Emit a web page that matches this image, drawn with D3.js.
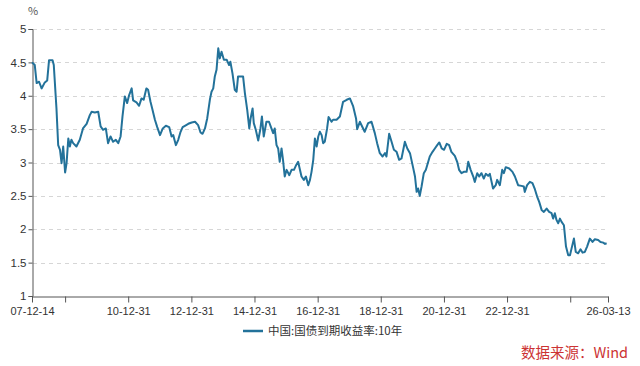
<!DOCTYPE html>
<html>
<head>
<meta charset="utf-8">
<script src="https://cdn.jsdelivr.net/npm/d3@7"></script>
<style>
  html, body { margin: 0; padding: 0; background: #fff; }
  svg { display: block; }
  text { font-family: "Noto Sans CJK SC", "Noto Sans", sans-serif; }
</style>
</head>
<body>
<svg id="chart" width="640" height="366"></svg>
<script>
// ---- data ----
const seriesName = "中国:国债到期收益率:10年";
const sourceText = "数据来源：Wind";
const unitLabel = "%";

const dates = [
"2007-12-14","2008-01-15","2008-02-06","2008-03-05","2008-04-03","2008-05-10","2008-06-07","2008-06-28",
"2008-08-08","2008-08-22","2008-09-22","2008-10-12","2008-11-02","2008-11-20","2008-12-09","2008-12-31",
"2009-01-17","2009-02-06","2009-02-24","2009-03-14","2009-04-03","2009-05-11","2009-06-19","2009-07-26",
"2009-09-06","2009-10-13","2009-11-03","2009-12-10","2010-01-18","2010-02-15","2010-03-15","2010-04-16",
"2010-05-12","2010-06-10","2010-07-09","2010-08-10","2010-09-07","2010-10-04","2010-10-26","2010-11-22",
"2010-12-19","2011-01-11","2011-02-09","2011-02-26","2011-04-06","2011-05-06","2011-06-03","2011-06-28",
"2011-07-29","2011-08-18","2011-09-15","2011-10-08","2011-11-05","2011-12-02","2012-01-03","2012-02-04",
"2012-03-11","2012-04-18","2012-05-16","2012-06-04","2012-07-05","2012-08-01","2012-08-28","2012-09-21",
"2012-10-17","2012-11-25","2013-01-04","2013-02-11","2013-03-19","2013-04-16","2013-05-09","2013-06-06",
"2013-07-02","2013-08-03","2013-08-21","2013-09-10","2013-09-28","2013-10-18","2013-11-07","2013-11-25",
"2013-12-15","2014-01-11","2014-02-12","2014-03-12","2014-03-27","2014-04-20","2014-05-17","2014-06-07",
"2014-06-24","2014-07-14","2014-08-21","2014-09-11","2014-10-08","2014-11-01","2014-11-16","2014-12-09",
"2014-12-23","2015-01-15","2015-02-12","2015-03-10","2015-03-27","2015-04-17","2015-05-18","2015-06-17",
"2015-07-15","2015-08-04","2015-08-22","2015-09-12","2015-10-01","2015-10-19","2015-11-09","2015-11-26",
"2015-12-16","2016-01-07","2016-02-07","2016-03-04","2016-04-01","2016-04-22","2016-05-19","2016-06-09",
"2016-06-27","2016-07-24","2016-08-17","2016-09-13","2016-10-03","2016-10-21","2016-11-10","2016-11-29",
"2016-12-19","2017-01-07","2017-01-25","2017-02-15","2017-03-04","2017-03-23","2017-04-19","2017-05-06",
"2017-06-10","2017-06-27","2017-08-07","2017-09-14","2017-10-21","2017-12-02","2018-01-08","2018-02-15",
"2018-03-20","2018-04-02","2018-05-03","2018-06-28","2018-08-07","2018-09-15","2018-10-23","2018-11-19",
"2018-12-20","2019-01-21","2019-02-18","2019-03-07","2019-04-07","2019-05-05","2019-06-01","2019-07-02",
"2019-08-01","2019-08-28","2019-10-06","2019-11-03","2019-12-04","2020-01-10","2020-01-31","2020-02-19",
"2020-03-07","2020-03-26","2020-04-16","2020-05-12","2020-06-05","2020-07-02","2020-07-20","2020-08-21",
"2020-09-17","2020-10-14","2020-11-07","2020-12-05","2021-01-01","2021-02-01","2021-03-01","2021-03-27",
"2021-05-06","2021-06-02","2021-06-24","2021-07-22","2021-08-18","2021-09-19","2021-10-08","2021-11-05",
"2021-12-05","2021-12-23","2022-01-20","2022-02-12","2022-03-10","2022-04-06","2022-04-29","2022-05-26",
"2022-06-15","2022-07-22","2022-08-22","2022-09-08","2022-10-09","2022-11-05","2022-11-24","2022-12-16",
"2023-01-25","2023-03-04","2023-04-01","2023-05-08","2023-06-16","2023-07-13","2023-07-24","2023-08-20",
"2023-09-21","2023-10-21","2023-11-18","2023-12-14","2024-01-07","2024-02-04","2024-03-01","2024-04-02",
"2024-05-01","2024-05-29","2024-06-16","2024-07-06","2024-07-25","2024-08-14","2024-09-03","2024-09-22",
"2024-10-19","2024-11-12","2024-12-08","2024-12-28","2025-01-15","2025-02-12","2025-03-05","2025-04-02",
"2025-04-29","2025-05-22","2025-06-18","2025-07-14","2025-08-15","2025-09-15","2025-10-12","2025-11-19",
"2025-12-16","2026-01-17","2026-02-07","2026-02-25"
];

const yields = [
4.50,4.46,4.19,4.21,4.11,4.20,4.23,4.53,
4.53,4.46,3.81,3.26,3.19,2.99,3.24,2.85,
2.99,3.36,3.24,3.34,3.29,3.24,3.34,3.51,
3.58,3.71,3.76,3.75,3.76,3.54,3.49,3.51,
3.29,3.39,3.31,3.34,3.29,3.39,3.69,3.99,
3.89,4.01,4.11,3.93,3.90,3.85,3.96,3.94,
4.11,4.09,3.91,3.79,3.64,3.53,3.41,3.51,
3.55,3.53,3.39,3.41,3.26,3.34,3.46,3.53,
3.55,3.58,3.60,3.61,3.56,3.45,3.43,3.51,
3.66,3.95,4.06,4.11,4.29,4.39,4.71,4.56,
4.66,4.54,4.54,4.46,4.51,4.34,4.09,4.06,
4.29,4.29,4.29,4.04,3.79,3.51,3.66,3.81,
3.59,3.49,3.33,3.51,3.69,3.39,3.61,3.61,
3.51,3.44,3.51,3.26,3.21,3.01,3.21,3.04,
2.79,2.89,2.81,2.89,2.89,2.95,3.01,2.89,
2.79,2.74,2.79,2.66,2.74,2.86,3.04,3.36,
3.24,3.39,3.46,3.41,3.29,3.31,3.51,3.68,
3.61,3.64,3.64,3.69,3.91,3.94,3.96,3.84,
3.66,3.50,3.61,3.46,3.59,3.61,3.44,3.29,
3.14,3.09,3.14,3.09,3.43,3.31,3.19,3.16,
3.04,3.06,3.31,3.21,3.14,2.92,2.79,2.56,
2.61,2.50,2.64,2.84,2.89,3.01,3.09,3.16,
3.21,3.26,3.30,3.21,3.19,3.28,3.26,3.16,
3.10,3.01,2.89,2.84,2.86,2.86,3.01,2.89,
2.79,2.71,2.84,2.79,2.84,2.76,2.83,2.80,
2.83,2.61,2.66,2.74,2.66,2.89,2.84,2.93,
2.91,2.86,2.79,2.66,2.65,2.64,2.56,2.66,
2.71,2.69,2.60,2.49,2.41,2.29,2.26,2.31,
2.26,2.24,2.16,2.24,2.14,2.09,2.16,2.11,
2.06,1.74,1.61,1.61,1.71,1.86,1.66,1.64,
1.70,1.65,1.66,1.74,1.86,1.81,1.85,1.84,
1.81,1.80,1.78,1.79
];

const xTickDates = ["2007-12-14","2008-12-31","2010-12-31","2012-12-31","2014-12-31","2016-12-31","2018-12-31","2020-12-31","2022-12-31","2024-12-31","2026-03-13"];
const xTickLabels = ["07-12-14","","10-12-31","12-12-31","14-12-31","16-12-31","18-12-31","20-12-31","22-12-31","","26-03-13"];
const yTicks = [1,1.5,2,2.5,3,3.5,4,4.5,5];
const yTickLabels = ["1","1.5","2","2.5","3","3.5","4","4.5","5"];

// ---- drawing ----
const parse = d3.timeParse("%Y-%m-%d");
const data = dates.map((d, i) => ({ date: parse(d), value: yields[i] }));

const svg = d3.select("#chart");
const margin = { left: 32, right: 32, top: 29, bottom: 70 };
const W = 640, H = 366;

const x = d3.scaleTime()
  .domain([parse(xTickDates[0]), parse(xTickDates[xTickDates.length - 1])])
  .range([margin.left, W - margin.right]);
const y = d3.scaleLinear()
  .domain([1, 5])
  .range([H - margin.bottom, margin.top]);

const lineColor = "#23729a";
const axisColor = "#555";
const textColor = "#333";
const tickFont = '"Liberation Sans", Arial, sans-serif';

// grid lines
svg.append("g")
  .selectAll("line")
  .data(yTicks.filter(v => v > 1))
  .join("line")
  .attr("x1", margin.left + 1)
  .attr("x2", W - margin.right)
  .attr("y1", d => Math.round(y(d)) + 0.5)
  .attr("y2", d => Math.round(y(d)) + 0.5)
  .attr("stroke", "#d6d6d6")
  .attr("stroke-width", 1)
  .attr("stroke-dasharray", "4,4");

// y axis
const yAxis = d3.axisLeft(y)
  .tickValues(yTicks)
  .tickFormat((d, i) => yTickLabels[i])
  .tickSize(4)
  .tickPadding(2);
const gy = svg.append("g")
  .attr("transform", `translate(${margin.left + 0.5},0)`)
  .call(yAxis);
gy.select(".domain").attr("stroke", axisColor);
gy.selectAll(".tick line").attr("stroke", axisColor);
gy.selectAll(".tick text").attr("fill", textColor).style("font-size", "11.5px")
  .style("font-family", tickFont);

// x axis
const xAxis = d3.axisBottom(x)
  .tickValues(xTickDates.map(parse))
  .tickFormat((d, i) => xTickLabels[i])
  .tickSize(6)
  .tickSizeOuter(0)
  .tickPadding(5);
const gx = svg.append("g")
  .attr("transform", `translate(0,${Math.round(y(1)) + 0.5})`)
  .call(xAxis);
gx.select(".domain").attr("stroke", axisColor);
gx.selectAll(".tick line").attr("stroke", axisColor);
gx.selectAll(".tick text").attr("fill", textColor).style("font-size", "11px")
  .style("font-family", tickFont);

// line
const line = d3.line()
  .x(d => x(d.date))
  .y(d => y(d.value))
  .curve(d3.curveLinear);
svg.append("path")
  .datum(data)
  .attr("fill", "none")
  .attr("stroke", lineColor)
  .attr("stroke-width", 2)
  .attr("stroke-linejoin", "round")
  .attr("d", line);

// unit label
svg.append("text")
  .attr("x", 33)
  .attr("y", 15)
  .attr("text-anchor", "middle")
  .attr("fill", "#555")
  .style("font-size", "11px")
  .text(unitLabel);

// legend
const lg = svg.append("g").attr("transform", "translate(243,331)");
lg.append("line")
  .attr("x1", 0).attr("x2", 20).attr("y1", 0).attr("y2", 0)
  .attr("stroke", lineColor).attr("stroke-width", 2.5);
lg.append("text")
  .attr("x", 25).attr("y", 4)
  .attr("fill", textColor)
  .style("font-size", "11.5px")
  .text(seriesName);

// source
svg.append("text")
  .attr("x", 628)
  .attr("y", 358)
  .attr("text-anchor", "end")
  .attr("fill", "#cc3333")
  .style("font-size", "14.5px")
  .text(sourceText);
</script>
</body>
</html>
